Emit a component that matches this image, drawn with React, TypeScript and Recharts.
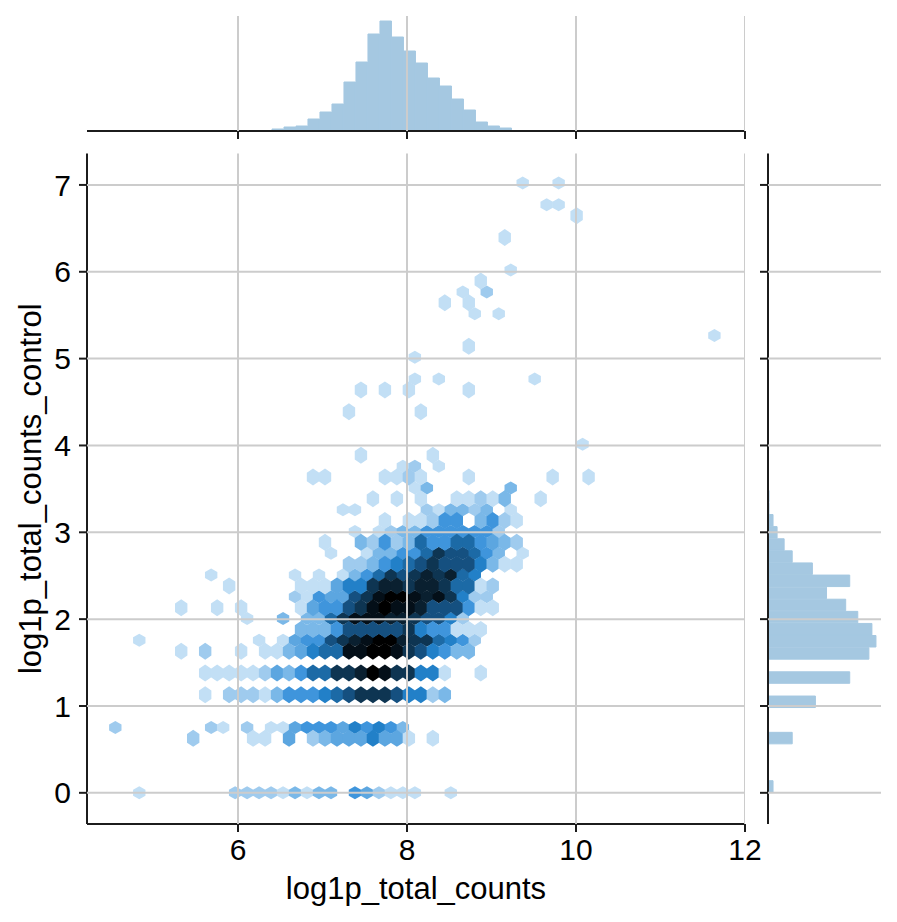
import React from 'react';
import {
  ScatterChart,
  Scatter,
  ComposedChart,
  Bar,
  XAxis,
  YAxis,
  ReferenceLine,
} from 'recharts';

// hexbin lattice: row number, first column, shade per column (0 = empty)
const hexRows = [0, 5, 6, 9, 11, 13, 14, 15, 16, 17, 18, 19, 20, 21, 22, 23, 24, 25, 26, 27, 28, 29, 30, 31, 32, 35, 37, 38, 40, 41, 42, 44, 45, 46, 47, 48, 51, 53, 54, 56];
const hexFirstCol = [2, 6, 0, 7, 7, 5, 2, 15, 11, 5, 15, 9, 8, 19, 18, 17, 20, 22, 19, 21, 25, 16, 24, 20, 39, 19, 20, 25, 25, 29, 50, 30, 27, 29, 30, 33, 32, 38, 36, 34];
const hexShades = [
  [1, 0, 0, 0, 0, 0, 0, 0, 2, 2, 2, 2, 1, 3, 1, 3, 3, 0, 5, 4, 2, 1, 1, 1, 0, 0, 1],
  [2, 0, 0, 0, 0, 1, 1, 0, 4, 0, 2, 3, 4, 4, 4, 6, 4, 4, 1, 0, 1],
  [2, 0, 0, 0, 0, 0, 0, 0, 2, 1, 0, 2, 0, 1, 1, 4, 5, 5, 5, 4, 6, 5, 6, 5, 3],
  [1, 0, 2, 2, 2, 1, 3, 5, 5, 5, 6, 7, 8, 9, 9, 9, 8, 6, 6, 2, 3],
  [1, 1, 1, 1, 1, 2, 4, 3, 5, 7, 7, 9, 9, 10, 12, 11, 9, 9, 6, 6, 1, 0, 0, 1],
  [1, 0, 2, 0, 0, 1, 0, 1, 1, 3, 4, 6, 7, 7, 11, 11, 12, 12, 11, 9, 8, 6, 5, 3, 3],
  [1, 0, 0, 0, 0, 0, 0, 0, 0, 0, 1, 0, 1, 4, 5, 5, 8, 9, 10, 11, 12, 12, 10, 9, 9, 7, 6, 5, 2],
  [3, 3, 3, 5, 8, 8, 8, 8, 8, 9, 6, 5, 5, 1, 1, 1],
  [1, 0, 0, 3, 0, 3, 3, 7, 9, 11, 11, 11, 10, 10, 9, 8, 8, 6, 2],
  [1, 0, 0, 1, 0, 1, 0, 0, 0, 0, 1, 4, 5, 5, 8, 9, 11, 12, 11, 11, 10, 8, 8, 8, 5, 1, 1],
  [2, 1, 5, 4, 4, 8, 9, 11, 12, 12, 11, 10, 11, 9, 6, 2, 2],
  [1, 0, 0, 0, 0, 0, 1, 1, 1, 4, 6, 6, 9, 10, 10, 9, 10, 10, 9, 7, 7, 1, 2],
  [1, 0, 0, 0, 0, 0, 0, 1, 0, 1, 0, 1, 3, 5, 7, 9, 8, 9, 10, 9, 10, 7, 6],
  [2, 2, 3, 5, 6, 7, 8, 9, 8, 8, 8, 6, 3, 1, 1],
  [1, 0, 0, 1, 3, 3, 5, 5, 7, 9, 8, 8, 7, 5, 3, 0, 1],
  [1, 0, 0, 3, 2, 5, 2, 3, 7, 5, 5, 7, 7, 5, 4, 3, 2],
  [1, 0, 1, 2, 3, 3, 5, 5, 5, 5, 5, 5, 2],
  [1, 0, 1, 1, 2, 5, 5, 0, 3, 5, 2, 1],
  [1, 1, 0, 0, 0, 0, 0, 2, 1, 3, 3, 2, 3, 0, 1],
  [1, 0, 1, 0, 1, 0, 0, 1, 1, 2, 1, 3, 0, 0, 1],
  [1, 3, 0, 0, 0, 0, 0, 0, 3],
  [1, 1, 0, 0, 0, 0, 1, 1, 2, 1, 0, 0, 0, 1, 0, 0, 0, 0, 0, 0, 1, 0, 0, 1],
  [1, 2, 0, 1],
  [1, 0, 0, 0, 0, 0, 1],
  [1],
  [1, 0, 0, 0, 0, 0, 1],
  [1, 0, 1, 0, 1, 0, 0, 0, 0, 1],
  [1, 0, 1, 0, 0, 0, 0, 0, 0, 0, 1],
  [1],
  [1],
  [1],
  [1, 0, 1],
  [1, 0, 1],
  [1, 0, 2],
  [1],
  [1],
  [1],
  [1],
  [1, 1],
  [1, 0, 0, 1],
];
const shadeColors = ['#ffffff', '#c2dff5', '#9fcbee', '#7ab8e8', '#5ca6e0', '#3f95dc', '#2280c8', '#1c6aa6', '#155080', '#0e3552', '#0a2030', '#040f18', '#000000'];

const hexX0 = 4.548;
const hexDx = 0.1418;
const hexDy = 0.1254;

// marginal histograms
const topBinCenters = [6.473, 6.615, 6.757, 6.899, 7.041, 7.183, 7.325, 7.467, 7.609, 7.751, 7.893, 8.035, 8.177, 8.319, 8.461, 8.603, 8.745, 8.887, 9.029, 9.171];
const topBinCounts = [2, 4, 5, 12, 19, 27, 49, 69, 97, 110, 94, 80, 68, 53, 45, 32, 21, 9, 5, 3];
const rightBinCenters = [0.07, 0.627, 1.045, 1.324, 1.602, 1.742, 1.881, 2.02, 2.16, 2.299, 2.438, 2.578, 2.717, 2.856, 2.996, 3.135, 3.274, 3.413];
const rightBinCounts = [5, 24, 47, 81, 100, 107, 103, 89, 77, 58, 81, 44, 24, 16, 9, 5, 1, 1];

const xTicks = [6, 8, 10, 12];
const yTicks = [0, 1, 2, 3, 4, 5, 6, 7];
const xDomain: [number, number] = [4.213, 12];
const yDomain: [number, number] = [-0.359, 7.362];

const hexCells = hexRows.flatMap((row, r) =>
  hexShades[r].flatMap((shade, c) => {
    if (!shade) return [];
    const col = hexFirstCol[r] + c;
    return [{ x: hexX0 + hexDx * (col + (row % 2 ? 0.5 : 0)), y: hexDy * row, row, shade }];
  }),
);
const squatCells = hexCells.filter((c) => c.row % 2 === 0);
const tallCells = hexCells.filter((c) => c.row % 2 === 1);

const topData = topBinCenters.map((x, i) => ({ x, count: topBinCounts[i] }));
const rightData = rightBinCenters.map((y, i) => ({ y, count: rightBinCounts[i] }));

const GRID = '#cccccc';
const INK = '#1c1c1c';
const BAR = '#a5c8e1';
const FONT = '"Liberation Sans", Arial, sans-serif';
const axisLine = { stroke: INK, strokeWidth: 2 };
const tickLine = { stroke: INK, strokeWidth: 2 };
const tickStyle = { fill: '#000000', fontSize: 30, fontFamily: FONT };
const labelStyle = { fill: '#000000', fontSize: 31, fontFamily: FONT };

const HexCell = (props: any) => {
  const { cx, cy, payload } = props;
  const tall = payload.row % 2 === 1;
  const h = tall ? 8.5 : 6.5;
  const s = tall ? 4.3 : 3;
  const w = 6.2;
  const points = [
    [cx, cy - h],
    [cx + w, cy - s],
    [cx + w, cy + s],
    [cx, cy + h],
    [cx - w, cy + s],
    [cx - w, cy - s],
  ]
    .map((p) => p.join(','))
    .join(' ');
  return <polygon points={points} fill={shadeColors[payload.shade]} />;
};

// gridlines sit on top of the marks, so they are reference lines and not a CartesianGrid
const xGrid = () =>
  xTicks.map((t) => (
    <ReferenceLine
      key={`x${t}`}
      x={t === 12 ? 11.994 : t}
      stroke={GRID}
      strokeWidth={t === 12 ? 1 : 2}
      zIndex={700}
    />
  ));
const yGrid = () =>
  yTicks.map((t) => <ReferenceLine key={`y${t}`} y={t} stroke={GRID} strokeWidth={2} zIndex={700} />);

const blankTick = () => '';

const place = (left: number, width: number, height: number): React.CSSProperties => ({
  position: 'absolute',
  left,
  top: 0,
  width,
  height,
});

export default function App() {
  return (
    <div style={{ position: 'absolute', left: 0, top: 0, width: 897, height: 922, background: '#fff' }}>
      {/* joint hexbin */}
      <div style={place(0, 897, 922)}>
        <ScatterChart width={897} height={922} margin={{ top: 153.5, right: 152, bottom: 38, left: 27 }}>
          <XAxis
            type="number"
            dataKey="x"
            domain={xDomain}
            ticks={xTicks}
            allowDataOverflow
            height={60}
            axisLine={axisLine}
            tickLine={tickLine}
            tickSize={8}
            tickMargin={7}
            tick={tickStyle}
            label={{ value: 'log1p_total_counts', position: 'insideBottom', offset: -15, style: labelStyle }}
          />
          <YAxis
            type="number"
            dataKey="y"
            domain={yDomain}
            ticks={yTicks}
            allowDataOverflow
            width={60}
            axisLine={axisLine}
            tickLine={tickLine}
            tickSize={8}
            tickMargin={8}
            tick={tickStyle}
            label={{ value: 'log1p_total_counts_control', angle: -90, position: 'insideLeft', offset: 3, style: { ...labelStyle, textAnchor: 'middle' } }}
          />
          <Scatter data={squatCells} shape={HexCell} isAnimationActive={false} />
          <Scatter data={tallCells} shape={HexCell} isAnimationActive={false} />
          {xGrid()}
          {yGrid()}
        </ScatterChart>
      </div>

      {/* top marginal */}
      <div style={place(0, 897, 160)}>
        <ComposedChart width={897} height={160} data={topData} margin={{ top: 16, right: 152, bottom: 0, left: 87 }}>
          <XAxis
            type="number"
            dataKey="x"
            domain={xDomain}
            ticks={xTicks}
            allowDataOverflow
            height={29}
            axisLine={axisLine}
            tickLine={tickLine}
            tickSize={8}
            tickFormatter={blankTick}
          />
          <YAxis hide type="number" domain={[0, 115]} />
          <Bar dataKey="count" fill={BAR} stroke={BAR} strokeWidth={1} barSize={11.5} isAnimationActive={false} />
          {xGrid()}
        </ComposedChart>
      </div>

      {/* right marginal */}
      <div style={place(750, 147, 922)}>
        <ComposedChart width={147} height={922} layout="vertical" data={rightData} margin={{ top: 153.5, right: 16, bottom: 98, left: 0 }}>
          <XAxis hide type="number" domain={[0, 112]} />
          <YAxis
            type="number"
            dataKey="y"
            domain={yDomain}
            ticks={yTicks}
            reversed
            allowDataOverflow
            width={18}
            axisLine={axisLine}
            tickLine={tickLine}
            tickSize={8}
            tickFormatter={blankTick}
          />
          <Bar dataKey="count" fill={BAR} stroke={BAR} strokeWidth={1} barSize={11.5} isAnimationActive={false} />
          {yGrid()}
        </ComposedChart>
      </div>
    </div>
  );
}
